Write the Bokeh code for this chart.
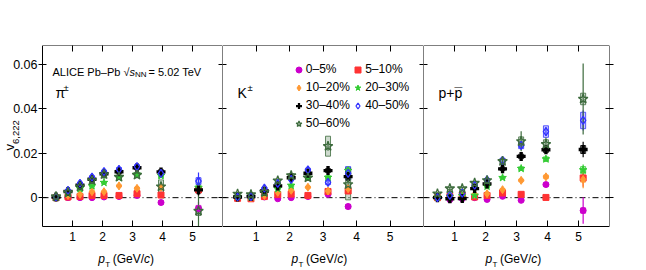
import numpy as np
from bokeh.plotting import figure
from bokeh.models import (Range1d, LinearAxis, FixedTicker, Label, Legend, LegendItem,
                          CustomJSTickFormatter, ColumnDataSource, BoxAnnotation)
from bokeh.layouts import row
from bokeh.embed import file_html
from bokeh.resources import INLINE

FONT = "Liberation Sans"

# ---------------- data ----------------
cent_labels = ["0–5%", "5–10%", "10–20%", "20–30%", "30–40%", "40–50%", "50–60%"]
x_ticks = [1, 2, 3, 4, 5]
y_ticks = [0, 0.02, 0.04, 0.06]

pi_pt = [0.45, 0.85, 1.25, 1.65, 2.05, 2.55, 3.15, 3.95, 5.2]
pi_v = [
    [0.0000, 0.0000, 0.0000, 0.0000, 0.0003, 0.0005, 0.0010, -0.0022, -0.0050],
    [0.0000, 0.0003, 0.0005, 0.0010, 0.0010, 0.0010, 0.0018, 0.0012, 0.0035],
    [0.0001, 0.0010, 0.0015, 0.0027, 0.0027, 0.0053, 0.0042, 0.0047, 0.0040],
    [0.0002, 0.0018, 0.0040, 0.0053, 0.0068, 0.0090, 0.0105, 0.0099, 0.0045],
    [0.0003, 0.0028, 0.0056, 0.0083, 0.0108, 0.0117, 0.0135, 0.0116, 0.0035],
    [0.0004, 0.0033, 0.0065, 0.0093, 0.0117, 0.0128, 0.0140, 0.0110, 0.0075],
    [0.0005, 0.0023, 0.0050, 0.0078, 0.0105, 0.0093, 0.0102, 0.0050, -0.0060],
]
pi_stat = [
    [0.0003, 0.0003, 0.0003, 0.0004, 0.0004, 0.0005, 0.0006, 0.0010, 0.0030],
    [0.0002, 0.0002, 0.0003, 0.0003, 0.0004, 0.0004, 0.0005, 0.0008, 0.0025],
    [0.0002, 0.0002, 0.0003, 0.0003, 0.0003, 0.0004, 0.0005, 0.0008, 0.0025],
    [0.0002, 0.0002, 0.0003, 0.0003, 0.0004, 0.0005, 0.0006, 0.0009, 0.0028],
    [0.0002, 0.0003, 0.0003, 0.0004, 0.0005, 0.0006, 0.0007, 0.0010, 0.0030],
    [0.0003, 0.0003, 0.0004, 0.0005, 0.0006, 0.0007, 0.0008, 0.0012, 0.0038],
    [0.0003, 0.0004, 0.0005, 0.0006, 0.0007, 0.0009, 0.0010, 0.0020, 0.0070],
]
pi_syst = [
    [0.0003, 0.0003, 0.0003, 0.0003, 0.0004, 0.0005, 0.0006, 0.0008, 0.0015],
    [0.0003, 0.0003, 0.0003, 0.0003, 0.0004, 0.0005, 0.0006, 0.0008, 0.0012],
    [0.0003, 0.0003, 0.0003, 0.0004, 0.0004, 0.0005, 0.0006, 0.0008, 0.0012],
    [0.0003, 0.0003, 0.0004, 0.0005, 0.0005, 0.0006, 0.0007, 0.0009, 0.0013],
    [0.0003, 0.0004, 0.0005, 0.0006, 0.0007, 0.0008, 0.0009, 0.0010, 0.0014],
    [0.0003, 0.0004, 0.0005, 0.0006, 0.0007, 0.0008, 0.0009, 0.0011, 0.0015],
    [0.0004, 0.0005, 0.0006, 0.0007, 0.0008, 0.0010, 0.0012, 0.0030, 0.0020],
]

k_pt = [0.45, 0.85, 1.25, 1.65, 2.05, 2.55, 3.15, 3.75]
k_v = [
    [0.0000, 0.0000, 0.0003, -0.0005, 0.0000, 0.0005, 0.0015, -0.0040],
    [-0.0003, -0.0005, 0.0005, 0.0014, 0.0016, 0.0010, 0.0028, 0.0030],
    [0.0000, 0.0000, 0.0010, 0.0024, 0.0033, 0.0047, 0.0030, 0.0040],
    [0.0005, 0.0003, 0.0020, 0.0040, 0.0055, 0.0090, 0.0091, 0.0122],
    [0.0003, 0.0005, 0.0030, 0.0053, 0.0090, 0.0110, 0.0122, 0.0095],
    [0.0003, 0.0005, 0.0043, 0.0064, 0.0082, 0.0125, 0.0069, 0.0110],
    [0.0017, 0.0014, 0.0025, 0.0077, 0.0100, 0.0090, 0.0232, 0.0060],
]
k_stat = [
    [0.0004, 0.0004, 0.0004, 0.0005, 0.0005, 0.0006, 0.0008, 0.0015],
    [0.0004, 0.0004, 0.0004, 0.0005, 0.0005, 0.0006, 0.0008, 0.0014],
    [0.0004, 0.0004, 0.0004, 0.0005, 0.0005, 0.0006, 0.0008, 0.0014],
    [0.0004, 0.0004, 0.0005, 0.0005, 0.0006, 0.0007, 0.0009, 0.0016],
    [0.0004, 0.0004, 0.0005, 0.0006, 0.0007, 0.0008, 0.0010, 0.0018],
    [0.0005, 0.0005, 0.0006, 0.0007, 0.0008, 0.0009, 0.0012, 0.0020],
    [0.0006, 0.0006, 0.0007, 0.0008, 0.0010, 0.0012, 0.0020, 0.0030],
]
k_syst = [
    [0.0003, 0.0003, 0.0003, 0.0003, 0.0004, 0.0005, 0.0006, 0.0010],
    [0.0003, 0.0003, 0.0003, 0.0004, 0.0004, 0.0005, 0.0006, 0.0010],
    [0.0003, 0.0003, 0.0003, 0.0004, 0.0005, 0.0005, 0.0006, 0.0010],
    [0.0003, 0.0003, 0.0004, 0.0005, 0.0006, 0.0007, 0.0008, 0.0015],
    [0.0003, 0.0003, 0.0004, 0.0005, 0.0006, 0.0007, 0.0009, 0.0015],
    [0.0003, 0.0003, 0.0004, 0.0005, 0.0006, 0.0008, 0.0010, 0.0030],
    [0.0004, 0.0004, 0.0005, 0.0006, 0.0008, 0.0010, 0.0045, 0.0070],
]

p_pt = [0.45, 0.85, 1.25, 1.65, 2.05, 2.55, 3.15, 3.95, 5.15]
p_v = [
    [0.0000, -0.0009, -0.0005, 0.0000, -0.0008, 0.0006, -0.0012, 0.0059, -0.0058],
    [0.0000, 0.0005, 0.0010, 0.0003, 0.0010, 0.0021, 0.0015, 0.0001, 0.0089],
    [0.0000, 0.0003, 0.0005, 0.0015, 0.0018, 0.0036, 0.0078, 0.0094, 0.0082],
    [0.0002, 0.0005, 0.0008, 0.0010, 0.0051, 0.0090, 0.0131, 0.0174, 0.0125],
    [0.0000, -0.0005, -0.0004, 0.0041, 0.0062, 0.0130, 0.0186, 0.0216, 0.0217],
    [0.0000, 0.0010, 0.0020, 0.0056, 0.0080, 0.0168, 0.0236, 0.0298, 0.0348],
    [0.0018, 0.0041, 0.0041, 0.0066, 0.0078, 0.0164, 0.0254, 0.0241, 0.0445],
]
p_stat = [
    [0.0005, 0.0005, 0.0005, 0.0005, 0.0006, 0.0007, 0.0010, 0.0012, 0.0060],
    [0.0004, 0.0004, 0.0004, 0.0005, 0.0005, 0.0006, 0.0008, 0.0008, 0.0040],
    [0.0004, 0.0004, 0.0004, 0.0005, 0.0005, 0.0006, 0.0008, 0.0009, 0.0040],
    [0.0004, 0.0004, 0.0005, 0.0005, 0.0006, 0.0007, 0.0010, 0.0012, 0.0025],
    [0.0005, 0.0005, 0.0005, 0.0006, 0.0007, 0.0009, 0.0012, 0.0015, 0.0035],
    [0.0005, 0.0005, 0.0006, 0.0007, 0.0008, 0.0010, 0.0018, 0.0020, 0.0045],
    [0.0006, 0.0007, 0.0008, 0.0009, 0.0011, 0.0020, 0.0045, 0.0030, 0.0160],
]
p_syst = [
    [0.0003, 0.0003, 0.0003, 0.0004, 0.0004, 0.0005, 0.0006, 0.0008, 0.0012],
    [0.0003, 0.0003, 0.0003, 0.0004, 0.0004, 0.0005, 0.0006, 0.0008, 0.0012],
    [0.0003, 0.0003, 0.0003, 0.0004, 0.0004, 0.0005, 0.0006, 0.0008, 0.0012],
    [0.0003, 0.0003, 0.0004, 0.0004, 0.0005, 0.0006, 0.0008, 0.0010, 0.0015],
    [0.0003, 0.0003, 0.0004, 0.0005, 0.0006, 0.0008, 0.0010, 0.0012, 0.0018],
    [0.0003, 0.0004, 0.0004, 0.0006, 0.0007, 0.0010, 0.0015, 0.0026, 0.0037],
    [0.0004, 0.0005, 0.0005, 0.0007, 0.0008, 0.0012, 0.0020, 0.0020, 0.0026],
]

# ---------------- styles / layout ----------------
colors = ["#CC00CC", "#FF3333", "#FF9933", "#33CC33", "#000000", "#3333FF", "#3D6B3D"]
markers = ["circle", "square", "diamond", "star", "plus", "diamond", "star"]
sizes = [6, 6, 8, 8, 9, 8, 10]
filled = [True, True, True, True, True, False, False]
line_widths = [1.0, 1.0, 1.0, 1.0, 0.0, 1.3, 1.3]

X_MIN, X_MAX = 0, 6
Y_MIN, Y_MAX = -0.013, 0.0686
TOP, FRAME_H, BOT = 45, 181, 42          # px: top border, visible box height, area below box
HEIGHT = TOP + FRAME_H + BOT
Y_START = Y_MIN - BOT * (Y_MAX - Y_MIN) / FRAME_H
BLANK = "return ''"


def axis(ticks, tin, tout, labels=True, size="12px", **kw):
    ax = LinearAxis(ticker=FixedTicker(ticks=ticks, minor_ticks=[]),
                    major_tick_in=tin, major_tick_out=tout, minor_tick_in=0, minor_tick_out=0,
                    axis_line_color=None, major_tick_line_color="black", major_tick_line_width=1,
                    major_label_text_font=FONT, major_label_text_font_size=size,
                    major_label_text_color="black", **kw)
    if not labels:
        ax.formatter = CustomJSTickFormatter(code=BLANK)
        ax.major_label_standoff = 0
    return ax


def label(p, x, y, text, size, **kw):
    lab = Label(x=x, y=y, x_units="screen", y_units="screen", text=text,
                text_font=FONT, text_font_size=f"{size}px", text_color="black",
                text_align="left", text_baseline="alphabetic", **kw)
    p.add_layout(lab)
    return lab


def make_panel(pt, vals, stat, syst, frame_w, left_ext, right_border, first, last):
    x_start = X_MIN - left_ext * (X_MAX - X_MIN) / frame_w
    p = figure(width=left_ext + frame_w + right_border, height=HEIGHT,
               x_range=Range1d(x_start, X_MAX), y_range=Range1d(Y_START, Y_MAX),
               output_backend="svg", toolbar_location=None,
               x_axis_location=None, y_axis_location=None,
               min_border_left=0, min_border_right=right_border,
               min_border_top=TOP, min_border_bottom=0)
    p.xgrid.visible = False
    p.ygrid.visible = False
    p.outline_line_color = None
    p.background_fill_color = "white"
    p.border_fill_color = "white"

    p.add_layout(axis(x_ticks, 6, 0, True, major_label_standoff=5, fixed_location=Y_MIN), "below")
    p.add_layout(axis(x_ticks, 6, 0, False), "above")
    if first:
        p.add_layout(axis(y_ticks, 4, 4, True, size="12.5px", major_label_standoff=1,
                          fixed_location=X_MIN), "left")
    else:
        p.add_layout(axis(y_ticks, 4, 0, False), "left")
    p.add_layout(axis(y_ticks, 4, 4 if last else 0, False), "right")

    # y = 0 reference line across the panel
    p.segment(x0=[X_MIN], y0=[0], x1=[X_MAX], y1=[0], line_color="black",
              line_width=1, line_dash="6 3 1 3")

    srcs = []
    for i in range(7):
        v = np.array(vals[i]); s = np.array(stat[i]); sy = np.array(syst[i])
        srcs.append(ColumnDataSource(dict(x=pt, y=v, lo=v - s, hi=v + s, sh=2 * sy)))
    for i in range(7):
        p.rect(x="x", y="y", width=5, width_units="screen", height="sh", source=srcs[i],
               fill_color=colors[i], fill_alpha=0.25, line_color=colors[i], line_width=0.8)
    for i in range(7):
        p.segment(x0="x", y0="lo", x1="x", y1="hi", source=srcs[i],
                  line_color=colors[i], line_width=1.2)
    rends = []
    for i in range(7):
        r = p.scatter(x="x", y="y", source=srcs[i], marker=markers[i], size=sizes[i],
                      fill_color=colors[i] if filled[i] else None,
                      line_color=colors[i] if line_widths[i] > 0 else None,
                      line_width=max(line_widths[i], 0.1))
        rends.append(r)

    # panel frame
    p.add_layout(BoxAnnotation(left=X_MIN, right=X_MAX, bottom=Y_MIN, top=Y_MAX,
                               fill_color=None, fill_alpha=0, line_color="black",
                               line_width=1, line_alpha=1))
    return p, rends


def x_title(p, x0):
    label(p, x0, 10, "p", 12, text_font_style="italic")
    label(p, x0 + 7, 4, "T", 8)
    label(p, x0 + 14.5, 10, "(GeV/", 12)
    label(p, x0 + 45.8, 10, "c", 12, text_font_style="italic")
    label(p, x0 + 51.8, 10, ")", 12)


p1, r1 = make_panel(pi_pt, pi_v, pi_stat, pi_syst, 180, 42, 0, True, False)
p2, r2 = make_panel(k_pt, k_v, k_stat, k_syst, 201, 0, 0, False, False)
p3, r3 = make_panel(p_pt, p_v, p_stat, p_syst, 186, 0, 22, False, True)

# axis titles
x_title(p1, 97.7)
x_title(p2, 69)
x_title(p3, 62)
label(p1, 9, 118, "v", 13, angle=90, angle_units="deg")
label(p1, 15, 124.5, "6,222", 9.5, angle=90, angle_units="deg")

# panel texts
label(p1, 52, 197, "ALICE Pb–Pb", 11)
label(p1, 123, 197, "√", 11)
label(p1, 129, 197, "s", 11, text_font_style="italic")
label(p1, 134.5, 194.5, "NN", 8)
label(p1, 148, 197, "= 5.02 TeV", 11)

label(p1, 55, 175.4, "π", 14)
label(p1, 63, 181, "±", 9.5)
label(p2, 15, 175.4, "K", 14)
label(p2, 25, 181, "±", 9.5)
label(p3, 15, 175.4, "p+p", 14)
label(p3, 31, 175.4, "¯", 14)

# legend (two columns) on the kaon panel
leg_kw = dict(orientation="vertical", glyph_width=15, glyph_height=15, label_height=15,
              label_standoff=0, spacing=3, padding=0, margin=0,
              border_line_alpha=0, background_fill_alpha=0,
              label_text_font=FONT, label_text_font_size="12px", label_text_color="black")
leg1 = Legend(items=[LegendItem(label=cent_labels[i], renderers=[r2[i]]) for i in (0, 2, 4, 6)],
              location=(68.8, 137.5), **leg_kw)
leg2 = Legend(items=[LegendItem(label=cent_labels[i], renderers=[r2[i]]) for i in (1, 3, 5)],
              location=(128.2, 155.5), **leg_kw)
p2.add_layout(leg1)
p2.add_layout(leg2)

layout = row(p1, p2, p3, spacing=0)
open("out.html", "w").write(file_html(layout, INLINE))
